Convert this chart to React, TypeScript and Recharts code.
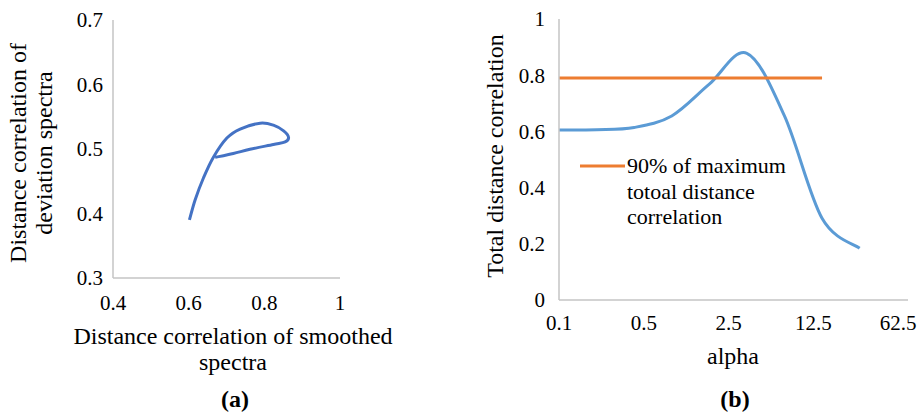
import React from 'react';
import { LineChart, Line, XAxis, YAxis, Legend } from 'recharts';

const FONT = '"Liberation Serif", "Times New Roman", serif';
const AXIS_GREY = '#c4c4c4';

// (a) path traced by the two distance correlations as alpha grows
const smoothedDc = [0.602, 0.617, 0.639, 0.665, 0.701, 0.736, 0.789, 0.824, 0.851, 0.864, 0.855, 0.824, 0.762, 0.718, 0.670];
const deviationDc = [0.390, 0.421, 0.455, 0.487, 0.517, 0.531, 0.540, 0.537, 0.528, 0.518, 0.511, 0.507, 0.4995, 0.493, 0.487];
const ticksA_x = [0.4, 0.6, 0.8, 1];
const ticksA_y = [0.3, 0.4, 0.5, 0.6, 0.7];

// (b) total distance correlation against alpha
const alpha = [0.1, 0.2, 0.4, 0.8, 1.6, 3.2, 6.4, 12.8, 25.6];
const totalDc = [0.605, 0.606, 0.614, 0.655, 0.768, 0.878, 0.655, 0.291, 0.184];
const threshold = [0.79, 0.79, 0.79, 0.79, 0.79, 0.79, 0.79, 0.79, null];
const ticksB_x = [0.1, 0.5, 2.5, 12.5, 62.5];
const ticksB_y = [0, 0.2, 0.4, 0.6, 0.8, 1];
const thresholdName = '90% of maximum totoal distance correlation';
const thresholdLines = ['90% of maximum', 'totoal distance', 'correlation'];

const dataA = smoothedDc.map((x, i) => ({ x, y: deviationDc[i] }));
const dataB = alpha.map((a, i) => ({ alpha: a, total: totalDc[i], limit: threshold[i] }));

const tickStyle = { fill: '#000', fontSize: 21, fontFamily: FONT, style: { fontFamily: FONT } };

// Spreadsheet-style smoothed line: cubic Bezier segments with 1/6 tangents
// (uniform Catmull-Rom), works for looping paths as well.
function smoothCurve(context: any) {
  let pts: number[][] = [];
  return {
    areaStart() {},
    areaEnd() {},
    lineStart() {
      pts = [];
    },
    point(x: number, y: number) {
      pts.push([+x, +y]);
    },
    lineEnd() {
      const n = pts.length;
      if (n === 0) return;
      context.moveTo(pts[0][0], pts[0][1]);
      for (let i = 0; i < n - 1; i++) {
        const p0 = pts[i - 1] || pts[i];
        const p1 = pts[i];
        const p2 = pts[i + 1];
        const p3 = pts[i + 2] || p2;
        context.bezierCurveTo(
          p1[0] + (p2[0] - p0[0]) / 6,
          p1[1] + (p2[1] - p0[1]) / 6,
          p2[0] - (p3[0] - p1[0]) / 6,
          p2[1] - (p3[1] - p1[1]) / 6,
          p2[0],
          p2[1]
        );
      }
    },
  };
}

// Category labels on the log axis sit slightly left of their ticks so the last one stays inside.
const AlphaTick = (props: any) => {
  const { x, y, payload, index } = props;
  return (
    <text
      x={x - index * 2.5}
      y={y}
      dy="0.71em"
      textAnchor="middle"
      fill="#000"
      fontSize={21}
      style={{ fontFamily: FONT }}
    >
      {payload.value}
    </text>
  );
};

const renderLegend = (props: any) => {
  const items = (props.payload || []).filter((p: any) => p.value === thresholdName);
  const color = items.length ? items[0].color : '#ED7D31';
  return (
    <svg width={260} height={80} style={{ display: 'block' }}>
      <line x1={0} y1={16} x2={45} y2={16} stroke={color} strokeWidth={3} />
      <text fontSize={22} fill="#000" style={{ fontFamily: FONT }}>
        {thresholdLines.map((t, i) => (
          <tspan key={i} x={47} y={23 + 25.5 * i}>
            {t}
          </tspan>
        ))}
      </text>
    </svg>
  );
};

export default function App() {
  return (
    <div
      style={{
        position: 'absolute',
        left: 0,
        top: 0,
        width: 924,
        height: 417,
        background: '#fff',
        overflow: 'hidden',
        fontFamily: FONT,
      }}
    >
      <div style={{ position: 'absolute', left: 0, top: 0 }}>
        <LineChart width={400} height={417} data={dataA} margin={{ top: 20, right: 60, bottom: 109, left: 53 }}>
          <XAxis
            dataKey="x"
            type="number"
            domain={[0.4, 1]}
            ticks={ticksA_x}
            interval={0}
            allowDataOverflow
            height={30}
            tickLine={false}
            tickSize={0}
            tickMargin={17}
            axisLine={{ stroke: AXIS_GREY, strokeWidth: 1.5 }}
            tick={tickStyle}
          />
          <YAxis
            type="number"
            domain={[0.3, 0.7]}
            ticks={ticksA_y}
            interval={0}
            allowDataOverflow
            width={60}
            tickLine={false}
            tickSize={0}
            tickMargin={10}
            axisLine={{ stroke: AXIS_GREY, strokeWidth: 1.5 }}
            tick={tickStyle}
          />
          <Line
            dataKey="y"
            type={smoothCurve as any}
            stroke="#4472C4"
            strokeWidth={3}
            dot={false}
            activeDot={false}
            isAnimationActive={false}
          />
        </LineChart>
      </div>

      <div style={{ position: 'absolute', left: 460, top: 0 }}>
        <LineChart width={464} height={417} data={dataB} margin={{ top: 19, right: 16, bottom: 87, left: 39 }}>
          <XAxis
            dataKey="alpha"
            type="number"
            scale="log"
            domain={[0.1, 62.5]}
            ticks={ticksB_x}
            interval={0}
            allowDataOverflow
            height={30}
            tickLine={false}
            tickSize={0}
            tickMargin={15}
            axisLine={{ stroke: AXIS_GREY, strokeWidth: 1.5 }}
            tick={<AlphaTick />}
          />
          <YAxis
            type="number"
            domain={[0, 1]}
            ticks={ticksB_y}
            interval={0}
            allowDataOverflow
            width={60}
            tickLine={false}
            tickSize={0}
            tickMargin={14}
            axisLine={{ stroke: AXIS_GREY, strokeWidth: 1.5 }}
            tick={tickStyle}
          />
          <Legend
            layout="vertical"
            align="center"
            verticalAlign="middle"
            content={renderLegend}
            wrapperStyle={{ position: 'absolute', left: 120, top: 150, width: 260, height: 80 }}
          />
          <Line
            dataKey="total"
            name="Total distance correlation"
            type={smoothCurve as any}
            stroke="#5B9BD5"
            strokeWidth={3}
            dot={false}
            activeDot={false}
            legendType="none"
            isAnimationActive={false}
          />
          <Line
            dataKey="limit"
            name={thresholdName}
            type="linear"
            stroke="#ED7D31"
            strokeWidth={3}
            dot={false}
            activeDot={false}
            isAnimationActive={false}
          />
        </LineChart>
      </div>

      <svg width={924} height={417} style={{ position: 'absolute', left: 0, top: 0, pointerEvents: 'none' }}>
        <g fontSize={24} fill="#000" textAnchor="middle" style={{ fontFamily: FONT }}>
          <text x={26} y={153} transform="rotate(-90 26 153)">Distance correlation of</text>
          <text x={52} y={153} transform="rotate(-90 52 153)">deviation spectra</text>
          <text x={233} y={344}>Distance correlation of smoothed</text>
          <text x={233} y={370}>spectra</text>
          <text x={235} y={407} fontWeight="bold">(a)</text>

          <text x={503} y={156} transform="rotate(-90 503 156)">Total distance correlation</text>
          <text x={733} y={364}>alpha</text>
          <text x={735} y={407} fontWeight="bold">(b)</text>
        </g>
      </svg>
    </div>
  );
}
